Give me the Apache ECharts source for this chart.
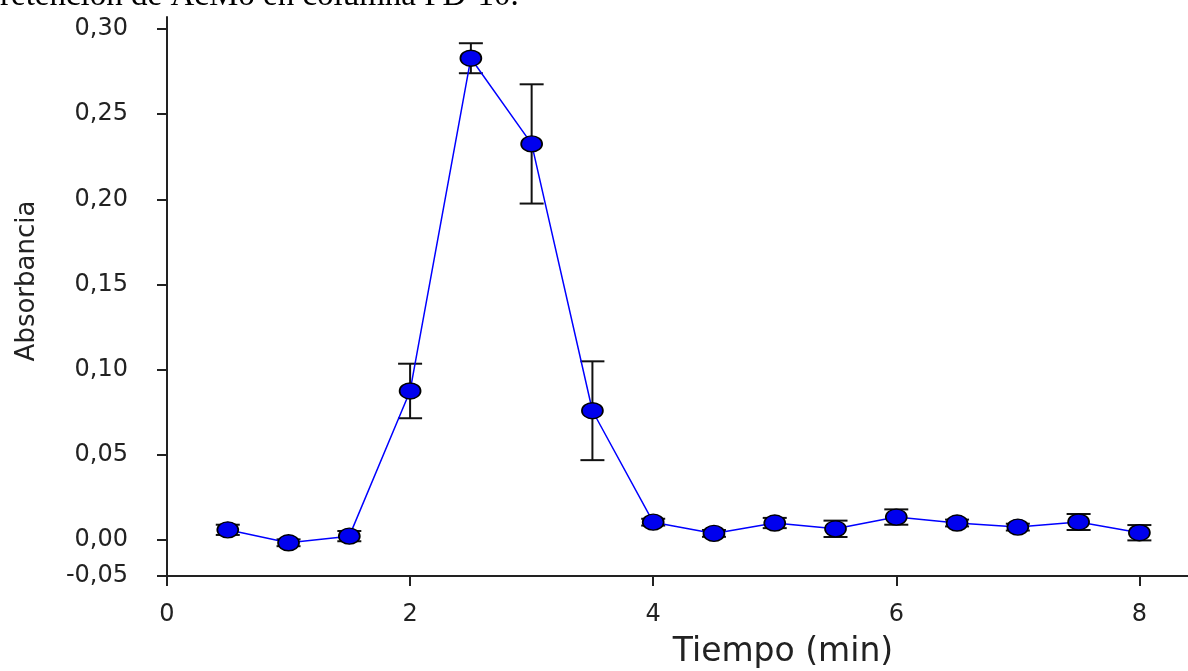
<!DOCTYPE html>
<html>
<head>
<meta charset="utf-8">
<script src="https://cdn.jsdelivr.net/npm/echarts@6/dist/echarts.min.js"></script>
<style>
  html, body { margin: 0; padding: 0; background: #fff; }
  #chart { width: 1188px; height: 671px; }
</style>
</head>
<body>
<div id="chart"></div>
<script>
const times = [0.5, 1, 1.5, 2, 2.5, 3, 3.5, 4, 4.5, 5, 5.5, 6, 6.5, 7, 7.5, 8];
const absorbance = [0.006, -0.0016, 0.0023, 0.0875, 0.2828, 0.2325, 0.0759, 0.0105,
  0.0039, 0.010, 0.0066, 0.0135, 0.010, 0.0076, 0.0106, 0.0043];
const errors = [0.003, 0.002, 0.003, 0.016, 0.0088, 0.035, 0.029, 0.002,
  0.002, 0.003, 0.0048, 0.0045, 0.002, 0.002, 0.0047, 0.0045];

const xTicks = [0, 2, 4, 6, 8];
const yMin = -0.0211;
const yMax = 0.307;
const yTickValues = [yMin, 0, 0.05, 0.10, 0.15, 0.20, 0.25, 0.30];
const yTickLabels = ["-0,05", "0,00", "0,05", "0,10", "0,15", "0,20", "0,25", "0,30"];

const chart = echarts.init(document.getElementById("chart"));

const points = times.map((t, i) => [t, absorbance[i]]);
const bars = times.map((t, i) => [t, absorbance[i] - errors[i], absorbance[i] + errors[i]]);

const axisFont = { color: "#222", fontFamily: "DejaVu Sans", fontSize: 24 };

const option = {
  animation: false,
  grid: { left: 167, right: 0, top: 17, bottom: 95, containLabel: false },
  xAxis: {
    type: "value",
    min: 0,
    max: 8.4,
    axisLine: { onZero: false, lineStyle: { color: "#222", width: 2 } },
    axisTick: { customValues: xTicks, length: 10, lineStyle: { color: "#222", width: 2 } },
    axisLabel: { customValues: xTicks, margin: 27, ...axisFont },
    splitLine: { show: false },
  },
  yAxis: {
    type: "value",
    min: yMin,
    max: yMax,
    axisLine: { show: true, onZero: false, lineStyle: { color: "#222", width: 2 } },
    axisTick: { show: true, customValues: yTickValues, length: 10, lineStyle: { color: "#222", width: 2 } },
    axisLabel: {
      customValues: yTickValues,
      margin: 39,
      ...axisFont,
      formatter: (v) => {
        let best = 0;
        yTickValues.forEach((tv, i) => {
          if (Math.abs(tv - v) < Math.abs(yTickValues[best] - v)) best = i;
        });
        return yTickLabels[best];
      },
    },
    splitLine: { show: false },
  },
  graphic: [
    {
      type: "text",
      left: 0,
      top: -20,
      style: {
        text: "retención de AcMo en columna PD-10.",
        font: "33px 'Liberation Serif'",
        fill: "#000",
      },
    },
    {
      type: "text",
      x: 27,
      y: 281,
      rotation: Math.PI / 2,
      style: {
        text: "Absorbancia",
        font: "26px 'DejaVu Sans'",
        fill: "#222",
        align: "center",
        verticalAlign: "middle",
      },
    },
    {
      type: "text",
      x: 783,
      y: 652,
      style: {
        text: "Tiempo (min)",
        font: "33px 'DejaVu Sans'",
        fill: "#222",
        align: "center",
        verticalAlign: "middle",
      },
    },
  ],
  series: [
    {
      type: "custom",
      name: "error",
      z: 2,
      data: bars,
      encode: { x: 0, y: [1, 2] },
      renderItem: (params, api) => {
        const x = api.value(0);
        const lo = api.coord([x, api.value(1)]);
        const hi = api.coord([x, api.value(2)]);
        const half = 12;
        const style = { stroke: "#111", lineWidth: 2 };
        return {
          type: "group",
          children: [
            { type: "line", shape: { x1: lo[0], y1: lo[1], x2: hi[0], y2: hi[1] }, style },
            { type: "line", shape: { x1: lo[0] - half, y1: lo[1], x2: lo[0] + half, y2: lo[1] }, style },
            { type: "line", shape: { x1: hi[0] - half, y1: hi[1], x2: hi[0] + half, y2: hi[1] }, style },
          ],
        };
      },
    },
    {
      type: "line",
      name: "Absorbancia",
      z: 3,
      data: points,
      symbol: "circle",
      symbolSize: [21, 16],
      lineStyle: { color: "#0000ff", width: 1.5 },
      itemStyle: { color: "#0000ee", borderColor: "#000", borderWidth: 1.5 },
    },
  ],
};

chart.setOption(option);
</script>
</body>
</html>
